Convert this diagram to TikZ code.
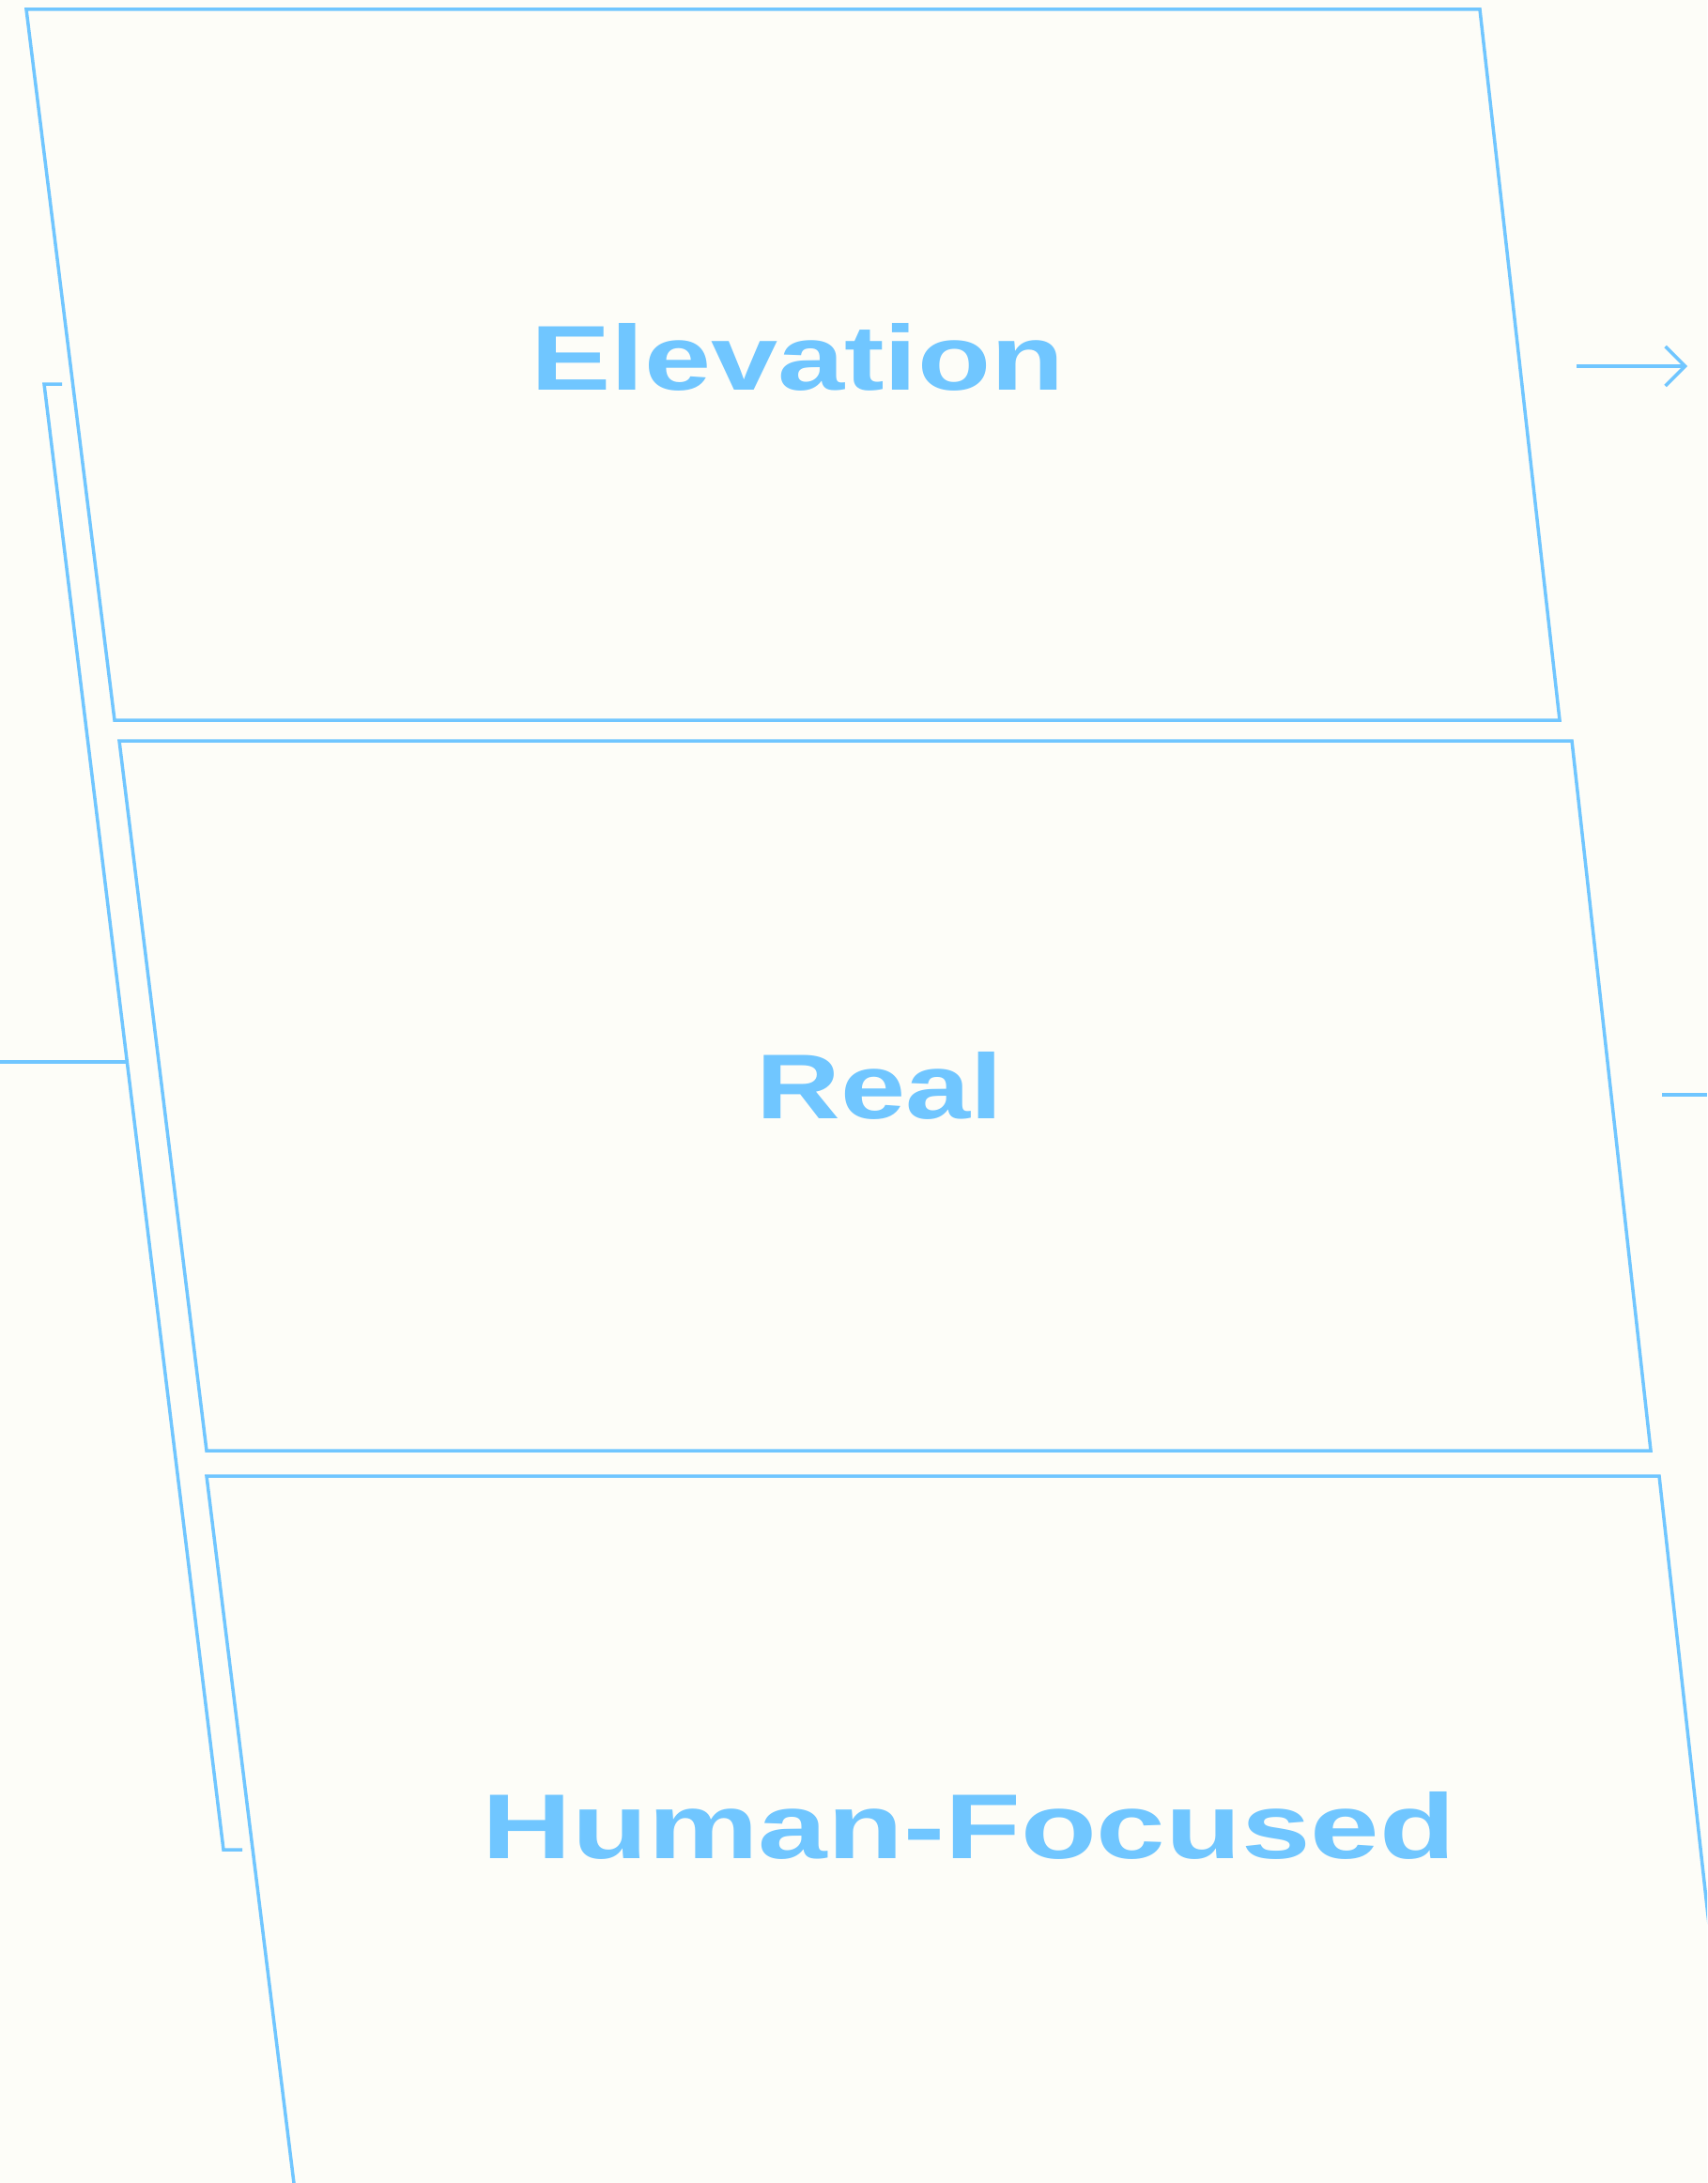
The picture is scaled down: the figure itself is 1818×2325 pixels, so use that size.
\documentclass[tikz,border=0pt]{standalone}
\usepackage{fontspec}
\setmainfont{Liberation Sans}
\usetikzlibrary{arrows.meta}
\definecolor{sky}{HTML}{70C6FF}
\definecolor{paper}{HTML}{FDFDF8}
\begin{document}
\begin{tikzpicture}[x=1pt,y=-1pt,
  panel/.style={draw=sky,line width=3.5pt,line join=miter},
  wire/.style={draw=sky,line width=3.5pt},
  lbl/.style={text=sky,anchor=base,inner sep=0pt,font=\bfseries}]
\useasboundingbox (0,0) rectangle (1818,2325);
\fill[paper] (0,0) rectangle (1818,2325);
\begin{scope}
\clip (0,0) rectangle (1818,2325);
% panels
\draw[panel] (28,10) -- (1576,10) -- (1661,767) -- (122,767) -- cycle;
\draw[panel] (127,789) -- (1674,789) -- (1758,1545) -- (220,1545) -- cycle;
\draw[panel] (220,1572) -- (1767,1572) -- (1855.8,2372) -- (318.8,2372) -- cycle;
% bracket on the left
\coordinate (bt) at (66,409);
\coordinate (btc) at (47,409);
\coordinate (bbc) at (238,1970);
\coordinate (bb) at (258,1970);
\draw[wire] (bt) -- (btc) -- (bbc) -- (bb);
% left horizontal
\coordinate (lh0) at (0,1131);
\coordinate (lh1) at (135.4,1131);
\draw[wire] (lh0) -- (lh1);
% right short line
\coordinate (rs0) at (1770,1166);
\coordinate (rs1) at (1818,1166);
\draw[wire] (rs0) -- (rs1);
% arrow
\coordinate (a0) at (1679,390);
\coordinate (a1) at (1797,390);
\draw[wire,-{Straight Barb[length=21pt,width=42pt]}] (a0) -- (a1);
\end{scope}
% labels
\node[lbl] (elev) at (849.5,415) {\resizebox{568pt}{71pt}{Elevation}};
\node[lbl] (real) at (937,1191) {\resizebox{262pt}{71pt}{Real}};
\node[lbl] (human) at (1032,1979) {\resizebox{1035pt}{71pt}{Human-Focused}};
\end{tikzpicture}
\end{document}
